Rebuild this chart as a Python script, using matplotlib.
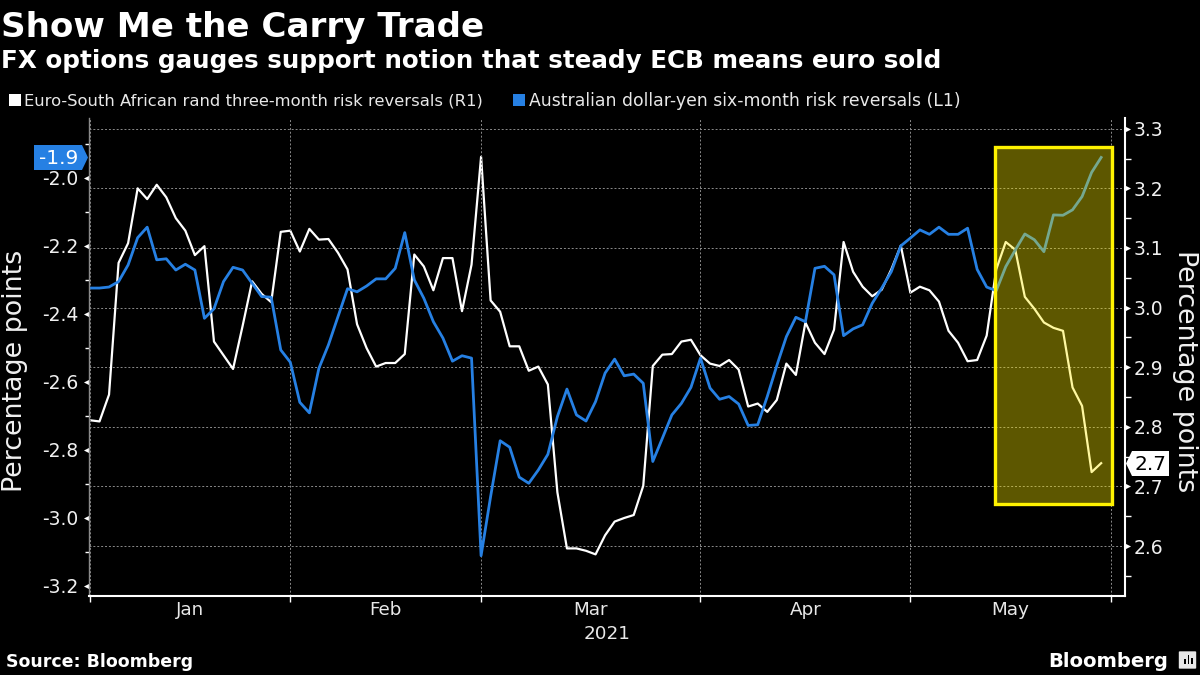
import matplotlib
matplotlib.use("Agg")
import matplotlib.pyplot as plt
import pandas as pd
from matplotlib.patches import Polygon, Rectangle, FancyBboxPatch
from matplotlib.ticker import FixedLocator

# data, one value per business day
zar_rr = [
    2.811, 2.809, 2.854, 3.075, 3.108, 3.200, 3.182, 3.206, 3.185, 3.150, 3.129,
    3.088, 3.103, 2.943, 2.920, 2.897, 2.969, 3.044, 3.023, 3.009, 3.127,
    3.129, 3.094, 3.132, 3.114, 3.115, 3.092, 3.064, 2.972, 2.932, 2.901,
    2.907, 2.907, 2.922, 3.089, 3.069, 3.029, 3.083, 3.083, 2.994, 3.072,
    3.253, 3.012, 2.993, 2.935, 2.935, 2.894, 2.901, 2.871, 2.690, 2.596,
    2.596, 2.592, 2.586, 2.618, 2.641, 2.647, 2.652, 2.701, 2.902, 2.921,
    2.922, 2.943, 2.946, 2.920, 2.906, 2.902, 2.912, 2.896, 2.834, 2.839,
    2.825, 2.845, 2.906, 2.887, 2.975, 2.941, 2.922, 2.963, 3.110, 3.060,
    3.035, 3.019, 3.030, 3.064, 3.104, 3.025, 3.035, 3.029, 3.010, 2.961,
    2.941, 2.910, 2.912, 2.953, 3.064, 3.110, 3.097, 3.018, 2.998, 2.975,
    2.966, 2.961, 2.866, 2.835, 2.724, 2.739,
]
aud_rr = [
    -2.324, -2.324, -2.321, -2.305, -2.256, -2.176, -2.145, -2.241, -2.238, -2.271, -2.254,
    -2.271, -2.413, -2.385, -2.305, -2.263, -2.271, -2.310, -2.349, -2.351, -2.506,
    -2.542, -2.660, -2.691, -2.560, -2.491, -2.408, -2.326, -2.335, -2.318, -2.297,
    -2.297, -2.266, -2.161, -2.300, -2.354, -2.423, -2.471, -2.539, -2.523, -2.530,
    -3.111, -2.937, -2.773, -2.792, -2.880, -2.898, -2.859, -2.813, -2.702, -2.621,
    -2.697, -2.715, -2.658, -2.574, -2.533, -2.582, -2.577, -2.604, -2.834, -2.766,
    -2.697, -2.663, -2.616, -2.530, -2.618, -2.651, -2.643, -2.665, -2.728, -2.726,
    -2.643, -2.552, -2.467, -2.410, -2.423, -2.266, -2.260, -2.285, -2.464, -2.444,
    -2.432, -2.369, -2.324, -2.276, -2.200, -2.177, -2.153, -2.166, -2.145, -2.166,
    -2.166, -2.148, -2.269, -2.321, -2.332, -2.261, -2.212, -2.165, -2.182, -2.217,
    -2.109, -2.110, -2.094, -2.055, -1.984, -1.940,
]
days = pd.bdate_range("2021-01-01", "2021-06-01")
left_ticks = [-3.2, -3.0, -2.8, -2.6, -2.4, -2.2, -2.0]
left_minor = [-3.1, -2.9, -2.7, -2.5, -2.3, -2.1, -1.9]
right_ticks = [2.6, 2.7, 2.8, 2.9, 3.0, 3.1, 3.2, 3.3]
right_minor = [2.55, 2.65, 2.75, 2.85, 2.95, 3.05, 3.15, 3.25]
month_names = ["Jan", "Feb", "Mar", "Apr", "May"]

WHITE = "#ffffff"
BLUE = "#2680e3"
GRID = "#8a8a8a"
W, H = 1200, 675
FONT = "DejaVu Sans"

plt.rcParams["font.family"] = FONT
fig = plt.figure(figsize=(12, 6.75), dpi=100, facecolor="black")


def fx(x):
    return x / W


def fy(y):
    return 1 - y / H


# right axis goes underneath so the blue line sits on top of the white one
axr = fig.add_axes([fx(89), fy(595.5), fx(1125 - 89), (595.5 - 118) / H], facecolor="black")
ax = axr.twinx()
ax.patch.set_visible(False)
axr.set_zorder(1)
ax.set_zorder(2)

x = list(range(len(zar_rr)))
axr.plot(x, zar_rr, color=WHITE, lw=1.6)
ax.plot(x, aud_rr, color=BLUE, lw=2.0)

axr.set_xlim(-0.1, 108.5)
axr.set_ylim(2.517, 3.318)
ax.set_ylim(-3.228, -1.824)

# axes are swapped by hand: blue reads on the left, white on the right
axr.yaxis.tick_right()
axr.yaxis.set_label_position("right")
ax.yaxis.tick_left()
ax.yaxis.set_label_position("left")

# months
month_pos = pd.Series(range(len(days)), index=days).groupby([days.year, days.month]).first().tolist()
ax.xaxis.set_visible(True)
ax.set_xticks(month_pos)
ax.set_xticklabels([])
ax.set_xticks([(a + b) / 2 for a, b in zip(month_pos[:-1], month_pos[1:])], minor=True)
ax.set_xticklabels(month_names, minor=True, fontsize=13.2, color="#e8e8e8")
ax.tick_params(axis="x", which="major", length=4, width=1, color=WHITE, top=False, bottom=True)
ax.tick_params(axis="x", which="minor", length=0, pad=4, top=False, bottom=True)
ax.set_axisbelow(True)
ax.grid(axis="x", which="major", color=GRID, lw=0.7, linestyle=(0, (2, 2)))

axr.set_yticks(right_ticks)
axr.set_yticklabels(["%.1f" % t for t in right_ticks], fontsize=13.5, color="#f0f0f0")
axr.yaxis.set_minor_locator(FixedLocator(right_minor))
axr.tick_params(axis="y", which="major", left=False, right=True, pad=3)
axr.tick_params(axis="y", which="minor", left=False, right=True, length=4, width=1, color=WHITE)
axr.grid(axis="y", which="major", color=GRID, lw=0.7, linestyle=(0, (2, 2)))
# the x axis is shared, only the top axes may draw it
for tick in axr.xaxis.get_major_ticks() + axr.xaxis.get_minor_ticks():
    tick.label1.set_visible(False)
    tick.tick1line.set_visible(False)

ax.set_yticks(left_ticks)
ax.set_yticklabels(["%.1f" % t for t in left_ticks], fontsize=13.5, color="#f0f0f0")
ax.yaxis.set_minor_locator(FixedLocator(left_minor))
ax.tick_params(axis="y", which="major", left=True, right=False, pad=4)
ax.tick_params(axis="y", which="minor", left=True, right=False, length=3, width=1, color=WHITE)

# triangle ticks
for tick in axr.yaxis.get_major_ticks():
    tick.tick2line.set_marker([(0, -0.5), (0, 0.5), (1, 0)])
    tick.tick2line.set_markersize(8)
    tick.tick2line.set_markerfacecolor(WHITE)
    tick.tick2line.set_markeredgewidth(0)
for tick in ax.yaxis.get_major_ticks():
    tick.tick1line.set_marker([(0, -0.5), (0, 0.5), (-1, 0)])
    tick.tick1line.set_markersize(8)
    tick.tick1line.set_markerfacecolor(WHITE)
    tick.tick1line.set_markeredgewidth(0)

for a in (ax, axr):
    for side in a.spines:
        a.spines[side].set_visible(False)
ax.spines["bottom"].set_visible(True)
ax.spines["bottom"].set_color(WHITE)
ax.spines["bottom"].set_linewidth(1.5)
ax.spines["right"].set_visible(True)
ax.spines["right"].set_color(WHITE)
ax.spines["right"].set_linewidth(1.5)
ax.spines["left"].set_visible(True)
ax.spines["left"].set_color(GRID)
ax.spines["left"].set_linewidth(1)

# highlight box, tints whatever is under it
ax.add_patch(Rectangle((94.9, 2.670), 107.1 - 94.9, 3.270 - 2.670, transform=axr.transData,
                       facecolor=(1, 0.93, 0, 0.37), edgecolor="none", zorder=10))
ax.add_patch(Rectangle((94.9, 2.670), 107.1 - 94.9, 3.270 - 2.670, transform=axr.transData,
                       facecolor="none", edgecolor="#fff200", lw=2.4, zorder=11))

# titles
fig.text(fx(1), fy(37), "Show Me the Carry Trade", fontsize=24.6, fontweight="bold", color=WHITE, va="baseline")
fig.text(fx(1), fy(68), "FX options gauges support notion that steady ECB means euro sold",
         fontsize=17.7, fontweight="bold", color=WHITE, va="baseline")

# legend
fig.patches.append(Rectangle((fx(9), fy(106)), 12 / W, 12 / H, transform=fig.transFigure, facecolor=WHITE))
fig.text(fx(24), fy(106), "Euro-South African rand three-month risk reversals (R1)", fontsize=11.8,
         color="#e8e8e8", va="baseline")
fig.patches.append(Rectangle((fx(513), fy(106)), 12 / W, 12 / H, transform=fig.transFigure, facecolor=BLUE))
fig.text(fx(529), fy(106), "Australian dollar-yen six-month risk reversals (L1)", fontsize=12.4,
         color="#e8e8e8", va="baseline")

# axis titles
fig.text(fx(15), fy(371), "Percentage points", fontsize=19.4, color="#f0f0f0", rotation=90, ha="center", va="center")
fig.text(fx(1185), fy(371), "Percentage points", fontsize=19.4, color="#f0f0f0", rotation=-90, ha="center", va="center")
fig.text(fx(607), fy(634), "2021", fontsize=13.2, color="#e8e8e8", ha="center", va="center")

# last value flags
blue_flag = [(34, 145), (82, 145), (88, 157.5), (82, 170), (34, 170)]
fig.patches.append(Polygon([(fx(a), fy(b)) for a, b in blue_flag], transform=fig.transFigure, facecolor=BLUE))
fig.text(fx(59), fy(158), "%.1f" % aud_rr[-1], fontsize=14.5, color=WHITE, ha="center", va="center")
white_flag = [(1126, 463.5), (1132, 451), (1169, 451), (1169, 476), (1132, 476)]
fig.patches.append(Polygon([(fx(a), fy(b)) for a, b in white_flag], transform=fig.transFigure, facecolor=WHITE))
fig.text(fx(1151), fy(464), "%.1f" % zar_rr[-1], fontsize=14.5, color="black", ha="center", va="center")

# footer
fig.text(fx(6), fy(667), "Source: Bloomberg", fontsize=12.5, fontweight="bold", color=WHITE, va="baseline")
fig.text(fx(1168), fy(667), "Bloomberg", fontsize=14.1, fontweight="bold", color=WHITE, ha="right", va="baseline")
fig.patches.append(FancyBboxPatch((fx(1180), fy(668)), 15 / W, 16 / H, transform=fig.transFigure,
                                  boxstyle="round,pad=0.001", facecolor="#e8e8e8", edgecolor="none"))
for bx, bh in zip([1184, 1187.5, 1191], [5, 9, 6]):
    fig.patches.append(Rectangle((fx(bx), fy(664)), 1.6 / W, bh / H, transform=fig.transFigure, facecolor="black"))

fig.savefig("out.png", dpi=100, facecolor="black")
